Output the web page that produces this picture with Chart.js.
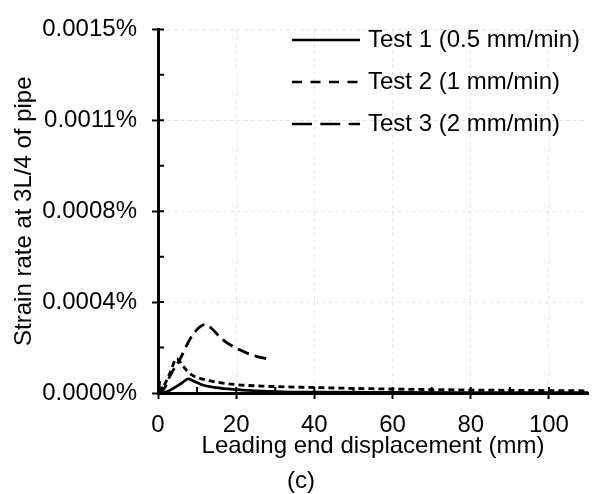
<!DOCTYPE html>
<html>
<head>
<meta charset="utf-8">
<script src="https://cdn.jsdelivr.net/npm/chart.js@4.4.0/dist/chart.umd.min.js"></script>
<style>
  html, body { margin: 0; padding: 0; background: #fff; }
  #wrap { width: 592px; height: 494px; }
</style>
</head>
<body>
<div id="wrap"><canvas id="strainChart" width="592" height="494"></canvas></div>
<script>
// Leading end displacement (mm) vs strain rate (%)
const test1X = [0, 1, 2.2, 4, 6, 7.75, 9, 11.6, 15, 19.2, 25, 32, 40, 60, 80, 110];
const test1Y = [0, 0, 0.000005, 0.00002, 0.00004, 0.000058, 0.00005, 0.000032, 0.000022, 0.0000147, 0.000009, 0.000005, 0.000003, 0.000002, 0.0000015, 0.000001];

const test2X = [0, 1.5, 3, 4.8, 6, 7.5, 9, 12, 15, 20, 28, 40, 57, 83, 110];
const test2Y = [0, 0.00003, 0.00008, 0.000142, 0.00012, 0.00009, 0.0000714, 0.000055, 0.0000448, 0.0000345, 0.0000278, 0.0000226, 0.000017, 0.0000119, 0.000009];

const test3X = [0, 0.6, 1, 2, 3.1, 5.6, 8.2, 10, 12, 14, 16.3, 20.9, 25.2, 28.6];
const test3Y = [0, 0.00005, 0.00001, 0.00003, 0.0000714, 0.000139, 0.000223, 0.000262, 0.000282, 0.000262, 0.000223, 0.000178, 0.000151, 0.000139];

const seriesLabels = ["Test 1 (0.5 mm/min)", "Test 2 (1 mm/min)", "Test 3 (2 mm/min)"];
const xTicks = [0, 20, 40, 60, 80, 100];
const yTicks = [0, 0.000375, 0.00075, 0.001125, 0.0015];

const FONT = "'Liberation Sans', Arial, sans-serif";
Chart.defaults.font.family = FONT;
Chart.defaults.color = "#000";

const toPoints = (xs, ys) => xs.map((x, i) => ({ x: x, y: ys[i] }));

const lineDash = [[], [6, 4], [12, 6]];
const legendDash = [[], [10, 8.5], [20, 8.3]];

// legend drawn inside plot, top right
const insideLegend = {
  id: "insideLegend",
  afterDraw(chart) {
    const ctx = chart.ctx;
    ctx.save();
    chart.data.datasets.forEach((ds, i) => {
      const y = 40 + i * 42;
      ctx.strokeStyle = "#000";
      ctx.lineWidth = 2.7;
      ctx.setLineDash(legendDash[i]);
      ctx.beginPath();
      ctx.moveTo(292, y);
      ctx.lineTo(360, y);
      ctx.stroke();
      ctx.setLineDash([]);
      ctx.fillStyle = "#000";
      ctx.font = "24px " + FONT;
      ctx.textBaseline = "middle";
      ctx.textAlign = "left";
      ctx.fillText(ds.label, 368, y);
    });
    ctx.font = "24px " + FONT;
    ctx.textAlign = "center";
    ctx.textBaseline = "middle";
    ctx.fillText("(c)", 301, 481);
    ctx.restore();
  }
};

// inner halves of major ticks + minor ticks between them
const innerTicks = {
  id: "innerTicks",
  afterDraw(chart) {
    const ctx = chart.ctx;
    const xs = chart.scales.x, ys = chart.scales.y;
    const area = chart.chartArea;
    ctx.save();
    ctx.strokeStyle = "#000";
    ctx.lineWidth = 2;
    ctx.beginPath();
    xTicks.forEach(v => {
      const px = xs.getPixelForValue(v);
      ctx.moveTo(px, area.bottom);
      ctx.lineTo(px, area.bottom - 6);
      const mid = v + 10;
      if (mid < xs.max) {
        const pm = xs.getPixelForValue(mid);
        ctx.moveTo(pm, area.bottom);
        ctx.lineTo(pm, area.bottom - 6);
      }
    });
    yTicks.forEach((v, i) => {
      const py = ys.getPixelForValue(v);
      ctx.moveTo(area.left, py);
      ctx.lineTo(area.left + 6, py);
      if (i < yTicks.length - 1) {
        const pm = ys.getPixelForValue((v + yTicks[i + 1]) / 2);
        ctx.moveTo(area.left, pm);
        ctx.lineTo(area.left + 6, pm);
      }
    });
    ctx.stroke();
    ctx.restore();
  }
};

new Chart(document.getElementById("strainChart"), {
  type: "line",
  data: {
    datasets: [
      { label: seriesLabels[0], data: toPoints(test1X, test1Y) },
      { label: seriesLabels[1], data: toPoints(test2X, test2Y) },
      { label: seriesLabels[2], data: toPoints(test3X, test3Y) }
    ].map((ds, i) => Object.assign(ds, {
      borderColor: "#000",
      borderWidth: 2.8,
      borderDash: lineDash[i],
      pointRadius: 0,
      fill: false,
      cubicInterpolationMode: "monotone"
    }))
  },
  options: {
    responsive: false,
    animation: false,
    devicePixelRatio: 1,
    layout: { padding: { top: 15, right: 4, left: 0, bottom: 0 } },
    plugins: {
      legend: { display: false },
      tooltip: { enabled: false }
    },
    scales: {
      x: {
        type: "linear",
        min: 0,
        max: 110,
        afterBuildTicks: s => { s.ticks = xTicks.map(v => ({ value: v })); },
        afterFit: s => { s.height = 101; },
        ticks: { font: { size: 24 }, color: "#000", padding: 12, maxRotation: 0 },
        grid: { color: "#e4e4e4", lineWidth: 1, drawTicks: true, tickLength: 6, tickColor: "#000", tickWidth: 2 },
        border: { color: "#000", width: 3, dash: [4, 3] },
        title: {
          display: true,
          text: "Leading end displacement (mm)",
          font: { size: 24 },
          color: "#000",
          padding: { top: 0, bottom: 33 }
        }
      },
      y: {
        min: 0,
        max: 0.0015,
        afterBuildTicks: s => { s.ticks = yTicks.map(v => ({ value: v })); },
        afterFit: s => { s.width = 158; },
        ticks: {
          font: { size: 24 },
          color: "#000",
          padding: 15,
          callback: v => v.toFixed(4) + "%"
        },
        grid: { color: "#e4e4e4", lineWidth: 1, drawTicks: true, tickLength: 6, tickColor: "#000", tickWidth: 2 },
        border: { color: "#000", width: 3, dash: [4, 3] },
        title: {
          display: true,
          text: "Strain rate at 3L/4 of pipe",
          font: { size: 24 },
          color: "#000",
          padding: { top: 10, bottom: 0 }
        }
      }
    }
  },
  plugins: [innerTicks, insideLegend]
});
</script>
</body>
</html>
